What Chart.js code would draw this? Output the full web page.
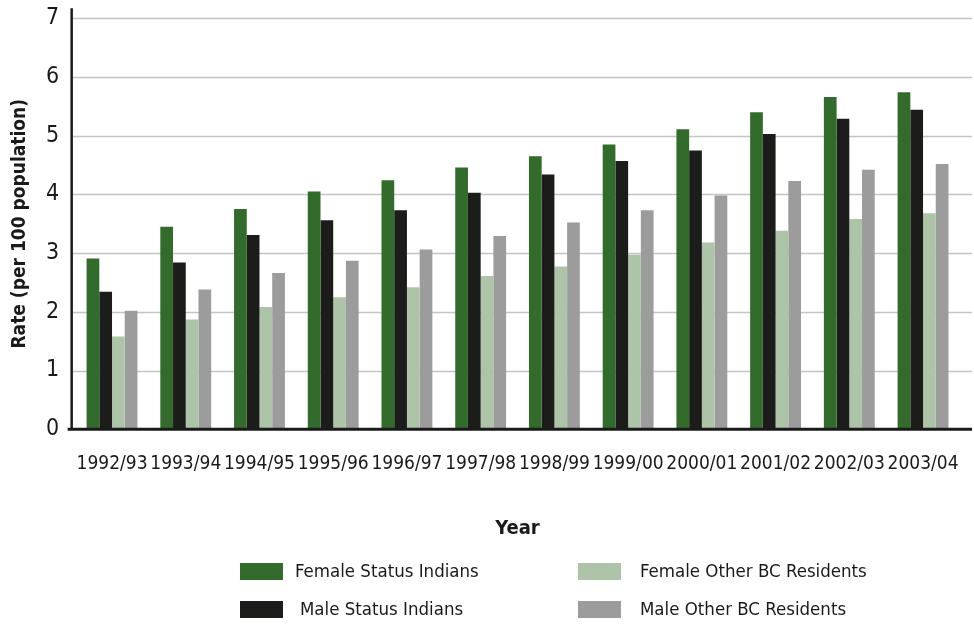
<!DOCTYPE html>
<html>
<head>
<meta charset="utf-8">
<script src="https://cdn.jsdelivr.net/npm/chart.js@4.4.1/dist/chart.umd.min.js"></script>
<style>
  body { margin: 0; background: #fff; }
  #wrap { position: relative; width: 974px; height: 626px; }
  #rateChart { position: absolute; left: 0; top: 0; }
  .leg { position: absolute; height: 18px; font-family: "DejaVu Sans", sans-serif; font-stretch: condensed; font-size: 18.5px; color: #1a1a1a; }
  .leg .box { position: absolute; left: 0; top: 0; width: 43px; height: 17px; }
  .leg .txt { position: absolute; top: -3px; white-space: nowrap; }
</style>
</head>
<body>
<div id="wrap">
  <canvas id="rateChart" width="974" height="626"></canvas>
  <div id="legend"></div>
</div>
<script>
const FONT = '"DejaVu Sans", sans-serif';

const years = ["1992/93", "1993/94", "1994/95", "1995/96", "1996/97", "1997/98",
  "1998/99", "1999/00", "2000/01", "2001/02", "2002/03", "2003/04"];
const femaleStatus = [2.91, 3.45, 3.75, 4.05, 4.24, 4.46, 4.65, 4.85, 5.11, 5.40, 5.66, 5.74];
const maleStatus   = [2.34, 2.84, 3.31, 3.56, 3.73, 4.03, 4.34, 4.57, 4.75, 5.03, 5.29, 5.44];
const femaleOther  = [1.58, 1.87, 2.08, 2.25, 2.42, 2.61, 2.77, 2.97, 3.18, 3.38, 3.58, 3.68];
const maleOther    = [2.02, 2.38, 2.66, 2.87, 3.06, 3.29, 3.52, 3.73, 3.98, 4.23, 4.42, 4.52];
const yTicks = [0, 1, 2, 3, 4, 5, 6, 7];

// canvas text: use the condensed face of DejaVu Sans for every label
const canvas = document.getElementById("rateChart");
const ctx2d = canvas.getContext("2d");
const fontProp = Object.getOwnPropertyDescriptor(CanvasRenderingContext2D.prototype, "font");
Object.defineProperty(ctx2d, "font", {
  get() { return fontProp.get.call(this); },
  set(v) { fontProp.set.call(this, v); this.fontStretch = "condensed"; }
});

// ── grid lines run past the plot to the right edge, axis sits a bit left ────
const gridPlugin = {
  id: "wideGrid",
  beforeDatasetsDraw(chart) {
    const { ctx, chartArea, scales } = chart;
    const axisX = chartArea.left - 3.5;
    ctx.save();
    yTicks.forEach(v => {
      if (v === 0) return;
      const y = Math.round(scales.y.getPixelForValue(v)) + 0.5;
      ctx.beginPath();
      ctx.strokeStyle = "#c4c4c4";
      ctx.lineWidth = 1.5;
      ctx.moveTo(axisX, y);
      ctx.lineTo(972, y);
      ctx.stroke();
    });
    ctx.restore();
  },
  afterDatasetsDraw(chart) {
    const { ctx, chartArea, scales } = chart;
    const axisX = chartArea.left - 3.5;
    const y0 = scales.y.getPixelForValue(0);
    ctx.save();
    ctx.strokeStyle = "#1a1a1a";
    ctx.lineWidth = 2.5;
    ctx.beginPath();
    ctx.moveTo(axisX, chartArea.top - 10);
    ctx.lineTo(axisX, y0);
    ctx.stroke();
    ctx.lineWidth = 3;
    ctx.beginPath();
    ctx.moveTo(axisX - 4, y0);
    ctx.lineTo(972, y0);
    ctx.stroke();
    ctx.restore();
  }
};

const chart = new Chart(ctx2d, {
  type: "bar",
  data: {
    labels: years,
    datasets: [
      { label: "Female Status Indians", data: femaleStatus, backgroundColor: "#336b2c" },
      { label: "Male Status Indians", data: maleStatus, backgroundColor: "#1c1c1a" },
      { label: "Female Other BC Residents", data: femaleOther, backgroundColor: "#adc4a9" },
      { label: "Male Other BC Residents", data: maleOther, backgroundColor: "#9c9c9c" }
    ]
  },
  options: {
    responsive: false,
    animation: false,
    layout: { padding: { top: 0, right: 11, bottom: 81, left: 0 } },
    datasets: { bar: { categoryPercentage: 0.69, barPercentage: 1.0 } },
    plugins: { legend: { display: false }, tooltip: { enabled: false } },
    scales: {
      x: {
        grid: { display: false },
        border: { display: false },
        ticks: { color: "#1a1a1a", padding: 15, maxRotation: 0, autoSkip: false, font: { family: FONT, size: 19 } },
        title: { display: true, text: "Year", color: "#1a1a1a", padding: { top: 27 }, font: { family: FONT, size: 20, weight: "bold" } }
      },
      y: {
        min: 0,
        max: 7,
        grid: { display: false, drawTicks: false },
        border: { display: false },
        ticks: { stepSize: 1, color: "#1a1a1a", padding: 16, font: { family: FONT, size: 23, lineHeight: 0.2 } },
        title: { display: true, text: "Rate (per 100 population)", color: "#1a1a1a", padding: { top: 11, bottom: 0 }, font: { family: FONT, size: 19, weight: "bold", lineHeight: 1 } }
      }
    }
  },
  plugins: [gridPlugin]
});

// ── legend, two columns, built from the datasets ─────────────────────────────
const legendSpots = [
  { left: 240, top: 563, text: 55 }, { left: 240, top: 601, text: 60 },
  { left: 578, top: 563, text: 62 }, { left: 578, top: 601, text: 62 }
];
const legend = document.getElementById("legend");
chart.data.datasets.forEach((ds, i) => {
  const spot = legendSpots[i];
  const item = document.createElement("div");
  item.className = "leg";
  item.style.left = spot.left + "px";
  item.style.top = spot.top + "px";
  item.innerHTML = `<span class="box" style="background:${ds.backgroundColor}"></span>` +
    `<span class="txt" style="left:${spot.text}px">${ds.label}</span>`;
  legend.appendChild(item);
});
</script>
</body>
</html>
